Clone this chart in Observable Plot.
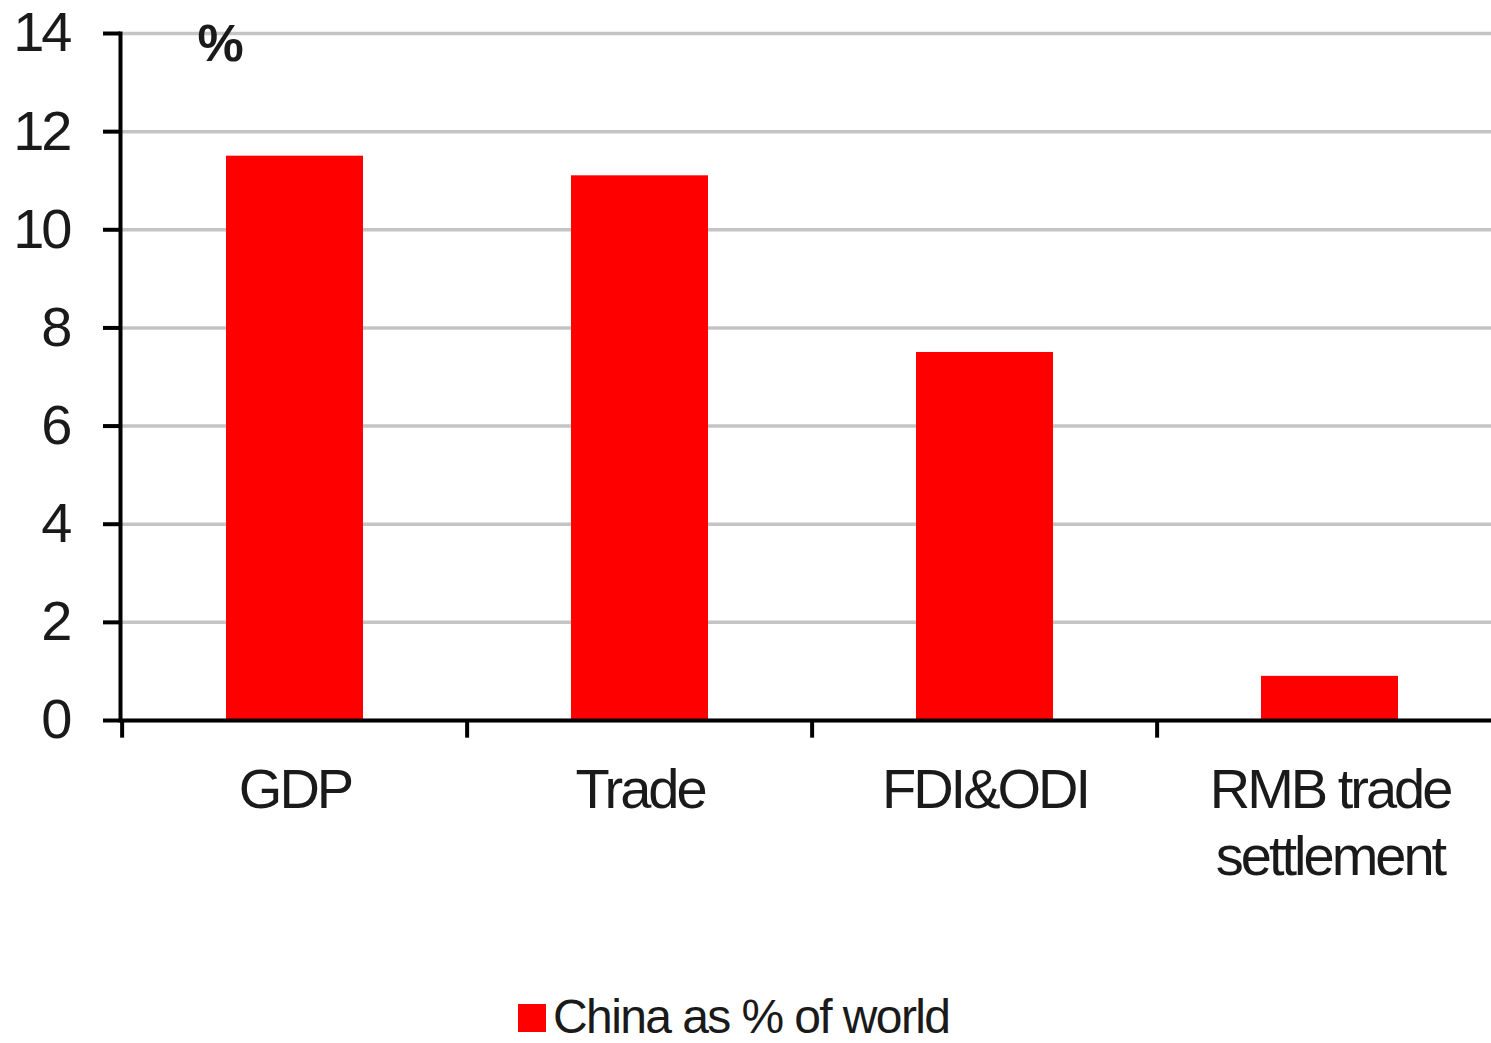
<!DOCTYPE html>
<html>
<head>
<meta charset="utf-8">
<script src="https://cdn.jsdelivr.net/npm/d3@7"></script>
<script src="https://cdn.jsdelivr.net/npm/@observablehq/plot@0.6"></script>
<style>
  html, body { margin: 0; padding: 0; background: #fff; }
  body { width: 1491px; height: 1043px; overflow: hidden; font-family: "Liberation Sans", Arial, sans-serif; }
  #chart svg text { letter-spacing: -3px; }
  #legend { position: relative; height: 46px; font-size: 48px; color: #1a1a1a; line-height: 46px; }
  #legend .sw { position: absolute; left: 518px; top: 9px; width: 28px; height: 28px; background: #ff0000; }
  #legend .lbl { position: absolute; left: 553px; top: -1px; white-space: nowrap; letter-spacing: -1.6px; }
</style>
</head>
<body>
<div id="chart"></div>
<div id="legend"><span class="sw"></span><span class="lbl">China as % of world</span></div>
<script>
const categories = ["GDP", "Trade", "FDI&ODI", "RMB trade settlement"];
const values = [11.5, 11.1, 7.5, 0.9];
const yTicks = [0, 2, 4, 6, 8, 10, 12, 14];
const seriesName = "China as % of world";
const unitLabel = "%";

const data = categories.map((c, i) => ({category: c, value: values[i]}));

const W = 1491, H = 995;
const xRange = [120, 1503];
const step = (xRange[1] - xRange[0]) / categories.length;
const font = '"Liberation Sans", Arial, sans-serif';

const chart = Plot.plot({
  width: W,
  height: H,
  marginTop: 33,
  marginLeft: 120,
  marginRight: 0,
  marginBottom: H - 720,
  style: {fontFamily: font, color: "#1a1a1a", background: "#fff"},
  x: {domain: categories, range: xRange, padding: 0},
  y: {domain: [0, 14]},
  marks: [
    Plot.gridY(yTicks, {stroke: "#c4c4c4", strokeOpacity: 1, strokeWidth: 3.5}),
    Plot.barY(data, {x: "category", y: "value", fill: "#ff0000", insetLeft: 104, insetRight: 104}),
    Plot.axisY(yTicks, {tickSize: 17, tickPadding: 34, strokeWidth: 4, stroke: "#000", fontSize: 56, fill: "#1a1a1a", label: null}),
    Plot.axisX({tickSize: 0, tickPadding: 40, fontSize: 56, fill: "#1a1a1a", label: null, lineHeight: 1.2,
      tickFormat: d => d === "RMB trade settlement" ? "RMB trade\nsettlement" : d}),
    Plot.ruleX(categories, {x: d => d, dx: -step / 2, y1: 0, y2: -0.36, stroke: "#000", strokeWidth: 4}),
    Plot.frame({anchor: "left", stroke: "#000", strokeWidth: 4}),
    Plot.ruleY([0], {stroke: "#000", strokeWidth: 4}),
    Plot.text([unitLabel], {frameAnchor: "top-left", dx: 77, dy: -9, fontSize: 52, fontWeight: "bold", fill: "#1a1a1a", text: d => d})
  ]
});
document.getElementById("chart").appendChild(chart);
</script>
</body>
</html>
